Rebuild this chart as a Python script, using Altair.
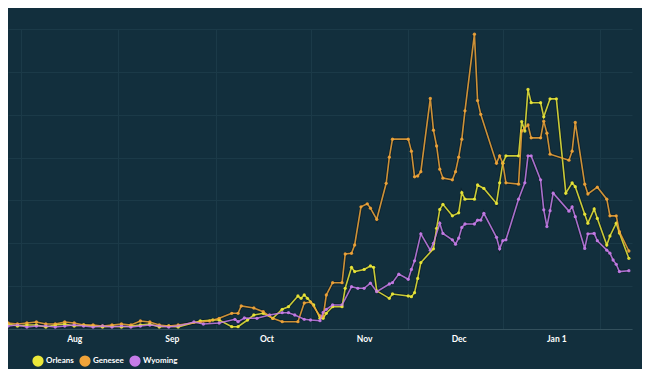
import altair as alt
import pandas as pd

early_dates = ["2020-07-11", "2020-07-14", "2020-07-17", "2020-07-20", "2020-07-23", "2020-07-26",
               "2020-07-29", "2020-08-01", "2020-08-04", "2020-08-07", "2020-08-10", "2020-08-13",
               "2020-08-16", "2020-08-19", "2020-08-22", "2020-08-25", "2020-08-28", "2020-08-31",
               "2020-09-03"]

orleans_dates = early_dates + [
    "2020-09-10", "2020-09-14", "2020-09-16", "2020-09-20", "2020-09-22", "2020-09-25", "2020-09-27",
    "2020-09-30", "2020-10-03", "2020-10-06", "2020-10-08", "2020-10-11", "2020-10-12", "2020-10-13",
    "2020-10-14", "2020-10-16", "2020-10-18", "2020-10-19", "2020-10-20", "2020-10-22", "2020-10-25",
    "2020-10-26", "2020-10-28", "2020-10-29", "2020-11-01", "2020-11-03", "2020-11-04", "2020-11-05",
    "2020-11-09", "2020-11-10", "2020-11-15", "2020-11-16", "2020-11-17", "2020-11-18", "2020-11-19",
    "2020-11-23", "2020-11-24", "2020-11-25", "2020-11-26", "2020-11-29", "2020-12-01", "2020-12-02",
    "2020-12-03", "2020-12-06", "2020-12-07", "2020-12-09", "2020-12-13", "2020-12-14", "2020-12-15",
    "2020-12-16", "2020-12-20", "2020-12-21", "2020-12-22", "2020-12-23", "2020-12-24", "2020-12-27",
    "2020-12-28", "2020-12-30", "2021-01-01", "2021-01-04", "2021-01-06", "2021-01-07", "2021-01-10",
    "2021-01-11", "2021-01-13", "2021-01-14", "2021-01-17", "2021-01-18", "2021-01-20", "2021-01-21",
    "2021-01-24"]
orleans_values = [
    1.17, 0.7, 0.93, 0.93, 0.47, 0.93, 1.17, 0.7, 0.93, 0.7, 0.47, 0.7, 0.47, 0.7, 0.93, 1.17, 0.47, 0.7, 0.47,
    1.87, 2.1, 2.1, 0.54, 0.54, 2.1, 3.27,
    3.66, 2.5, 4.6, 5.2, 7.7, 7.16, 7.93,
    7.16, 5.6, 2.5, 2.5, 3.66, 5.2, 5.2,
    9.5, 14.4, 13.4, 13.9, 14.7, 14.4, 8.9,
    7.16, 8.17, 7.7, 7.54, 8.47, 11.8, 15.5,
    18.7, 23.5, 27.9, 29.1, 26.4, 27.1, 31.8,
    30.3, 30.3, 33.6, 32.8, 29.3, 34.1, 38.7,
    40.4, 40.4, 48.4, 46.2, 55.9, 52.8, 52.8,
    49.5, 53.7, 53.7, 31.7, 34.1, 33.2, 26.8,
    24.7, 28.0, 25.8, 19.6, 21.7, 24.7, 22.4,
    16.5]

genesee_dates = early_dates + [
    "2020-09-10", "2020-09-13", "2020-09-16", "2020-09-20", "2020-09-22", "2020-09-23", "2020-09-27",
    "2020-09-30", "2020-10-03", "2020-10-06", "2020-10-11", "2020-10-13", "2020-10-15", "2020-10-18",
    "2020-10-19", "2020-10-20", "2020-10-22", "2020-10-25", "2020-10-26", "2020-10-28", "2020-10-29",
    "2020-10-31", "2020-11-02", "2020-11-03", "2020-11-05", "2020-11-08", "2020-11-09", "2020-11-10",
    "2020-11-15", "2020-11-16", "2020-11-17", "2020-11-18", "2020-11-19", "2020-11-22", "2020-11-23",
    "2020-11-24", "2020-11-25", "2020-11-26", "2020-11-29", "2020-11-30", "2020-12-01", "2020-12-02",
    "2020-12-03", "2020-12-06", "2020-12-07", "2020-12-08", "2020-12-13", "2020-12-14", "2020-12-15",
    "2020-12-16", "2020-12-20", "2020-12-21", "2020-12-23", "2020-12-24", "2020-12-27", "2020-12-28",
    "2020-12-29", "2020-12-30", "2021-01-05", "2021-01-06", "2021-01-07", "2021-01-10", "2021-01-11",
    "2021-01-14", "2021-01-17", "2021-01-18", "2021-01-20", "2021-01-21", "2021-01-24"]
genesee_values = [
    1.4, 1.17, 1.4, 1.63, 1.17, 1.17, 1.63, 1.4, 0.93, 0.93, 0.7, 0.93, 1.17, 0.93, 1.87, 1.63, 0.93, 0.7, 0.93,
    1.63, 1.87, 2.5, 3.66, 3.66, 5.37, 4.9,
    4.04, 2.5, 1.7, 1.7, 6.07, 6.3, 3.03,
    2.87, 7.93, 10.8, 10.8, 17.5, 17.66, 19.6,
    28.5, 29.2, 28.2, 25.6, 34.0, 40.1, 44.3,
    44.3, 41.5, 35.5, 35.7, 36.7, 53.8, 46.4,
    42.7, 37.3, 35.2, 34.8, 36.7, 40.1, 44.3,
    50.9, 68.8, 53.3, 50.1, 38.7, 40.4, 38.7,
    34.1, 33.8, 46.2, 47.6, 44.6, 44.6, 48.5,
    45.7, 40.8, 39.4, 41.5, 48.2, 33.8, 31.5,
    33.1, 30.3, 26.4, 26.4, 22.7, 18.2]

wyoming_dates = early_dates + [
    "2020-09-08", "2020-09-11", "2020-09-16", "2020-09-21", "2020-09-22", "2020-09-24", "2020-09-28",
    "2020-10-02", "2020-10-06", "2020-10-08", "2020-10-10", "2020-10-13", "2020-10-15", "2020-10-18",
    "2020-10-19", "2020-10-20", "2020-10-22", "2020-10-25", "2020-10-28", "2020-10-30", "2020-11-01",
    "2020-11-03", "2020-11-05", "2020-11-09", "2020-11-10", "2020-11-12", "2020-11-15", "2020-11-16",
    "2020-11-17", "2020-11-19", "2020-11-22", "2020-11-23", "2020-11-25", "2020-11-26", "2020-11-29",
    "2020-11-30", "2020-12-01", "2020-12-02", "2020-12-03", "2020-12-06", "2020-12-07", "2020-12-08",
    "2020-12-09", "2020-12-13", "2020-12-14", "2020-12-15", "2020-12-16", "2020-12-20", "2020-12-22",
    "2020-12-23", "2020-12-24", "2020-12-27", "2020-12-28", "2020-12-29", "2020-12-30", "2020-12-31",
    "2021-01-05", "2021-01-06", "2021-01-07", "2021-01-10", "2021-01-11", "2021-01-13", "2021-01-14",
    "2021-01-17", "2021-01-18", "2021-01-19", "2021-01-20", "2021-01-21", "2021-01-24"]
wyoming_values = [
    0.7, 0.93, 0.47, 0.7, 0.7, 0.47, 0.7, 0.93, 0.7, 0.47, 0.7, 0.47, 0.7, 0.47, 0.7, 0.93, 0.7, 0.47, 0.7,
    1.63, 1.17, 1.4, 2.26, 1.7, 2.57, 2.5,
    3.27, 3.8, 3.8, 3.27, 2.26, 2.1, 1.94,
    3.85, 4.6, 5.6, 5.6, 9.87, 9.5, 9.5,
    10.7, 8.7, 10.5, 10.8, 12.8, 11.6, 13.9,
    15.9, 22.2, 18.4, 20.0, 24.7, 22.3, 20.8,
    19.8, 21.2, 23.7, 24.5, 24.5, 25.4, 25.4,
    27.0, 21.4, 18.7, 20.6, 20.8, 30.3, 34.1,
    40.4, 40.4, 34.8, 27.8, 23.9, 27.6, 31.7,
    27.5, 28.5, 26.2, 18.8, 22.2, 22.3, 20.6,
    18.4, 17.7, 16.1, 15.1, 13.4, 13.6]

counties = ["Orleans", "Genesee", "Wyoming"]
colors = ["#ebe83a", "#f0a43a", "#c57ce8"]

month_ticks = ["2020-08-01", "2020-09-01", "2020-10-01", "2020-11-01", "2020-12-01", "2021-01-01"]
month_labels = ["Aug", "Sep", "Oct", "Nov", "Dec", "Jan 1"]
grid_dates = ["2020-07-15", "2020-08-15", "2020-09-15", "2020-10-15", "2020-11-15", "2020-12-15", "2021-01-15"]
x_domain = ["2020-07-11", "2021-01-25"]
y_ticks = [0, 10, 20, 30, 40, 50, 60, 70]

rows = []
for name, ds, vs in [("Orleans", orleans_dates, orleans_values),
                     ("Genesee", genesee_dates, genesee_values),
                     ("Wyoming", wyoming_dates, wyoming_values)]:
    for d, v in zip(ds, vs):
        rows.append({"county": name, "date": d, "value": v})
df = pd.DataFrame(rows)


def dt(s):
    y, m, d = (int(p) for p in s.split("-"))
    return alt.DateTime(year=y, month=m, date=d, utc=True)


label_expr = " : ".join(
    f"utcFormat(datum.value, '%Y-%m-%d') == '{d}' ? '{l}'" for d, l in zip(month_ticks, month_labels)
) + " : ''"

BG = "#122f3d"
GRID = "#1b3a48"
FONT = "Lato"

x_scale = alt.Scale(type="utc", domain=[dt(s) for s in x_domain], nice=False)
y_scale = alt.Scale(domain=[y_ticks[0], y_ticks[-1]], nice=False)
color_scale = alt.Scale(domain=counties, range=colors)

grid_axis_x = alt.Axis(values=[dt(s) for s in grid_dates], grid=True, gridColor=GRID, gridWidth=1,
                       labels=False, ticks=False, domain=False, title=None, orient="top")
grid_axis_y = alt.Axis(values=y_ticks, grid=True, gridColor=GRID, gridWidth=1, labels=False,
                       ticks=False, domain=False, title=None, minExtent=0, maxExtent=0)
label_axis_x = alt.Axis(values=[dt(s) for s in month_ticks], grid=False, ticks=False, domain=True,
                        domainColor="#33505c", domainWidth=1, labelExpr=label_expr,
                        labelColor="#ffffff", labelFont=FONT, labelFontWeight="bold", labelFontSize=8.5,
                        labelPadding=5, title=None, orient="bottom")

legend = alt.Legend(title=None, orient="none", legendX=24, legendY=326,
                    direction="horizontal", symbolType="circle", symbolSize=95,
                    symbolStrokeColor="#0a1a22", symbolStrokeWidth=1.5,
                    symbolOpacity=1, labelColor="#ffffff", labelFont=FONT,
                    labelFontWeight="bold", labelFontSize=8, labelOffset=2,
                    columnPadding=3, padding=0)

base = alt.Chart(df)

grid_layer = base.mark_point(opacity=0).encode(
    x=alt.X("date:T", scale=x_scale, axis=grid_axis_x),
    y=alt.Y("value:Q", scale=y_scale, axis=grid_axis_y),
)

shadow = base.mark_line(color="#081820", strokeWidth=3.4, opacity=0.55).encode(
    x=alt.X("date:T", scale=x_scale, axis=label_axis_x),
    y=alt.Y("value:Q", scale=y_scale, axis=None),
    detail="county:N",
)

points = base.mark_circle(size=11, opacity=0.9).encode(
    x=alt.X("date:T", scale=x_scale, axis=None),
    y=alt.Y("value:Q", scale=y_scale, axis=None),
    color=alt.Color("county:N", scale=color_scale, legend=legend),
)

lines = base.mark_line(strokeWidth=1.6, opacity=0.85).encode(
    x=alt.X("date:T", scale=x_scale, axis=None),
    y=alt.Y("value:Q", scale=y_scale, axis=None),
    color=alt.Color("county:N", scale=color_scale, legend=legend),
)

chart = alt.layer(grid_layer, shadow, points, lines).resolve_axis(
    x="independent", y="independent"
).properties(
    width=624, height=300,
    padding={"left": 0, "top": 21, "right": 10, "bottom": 40},
    autosize=alt.AutoSizeParams(type="none"),
    background=BG,
).configure_view(stroke=None)

chart.save("out.html", embed_options={"renderer": "svg", "actions": False})
